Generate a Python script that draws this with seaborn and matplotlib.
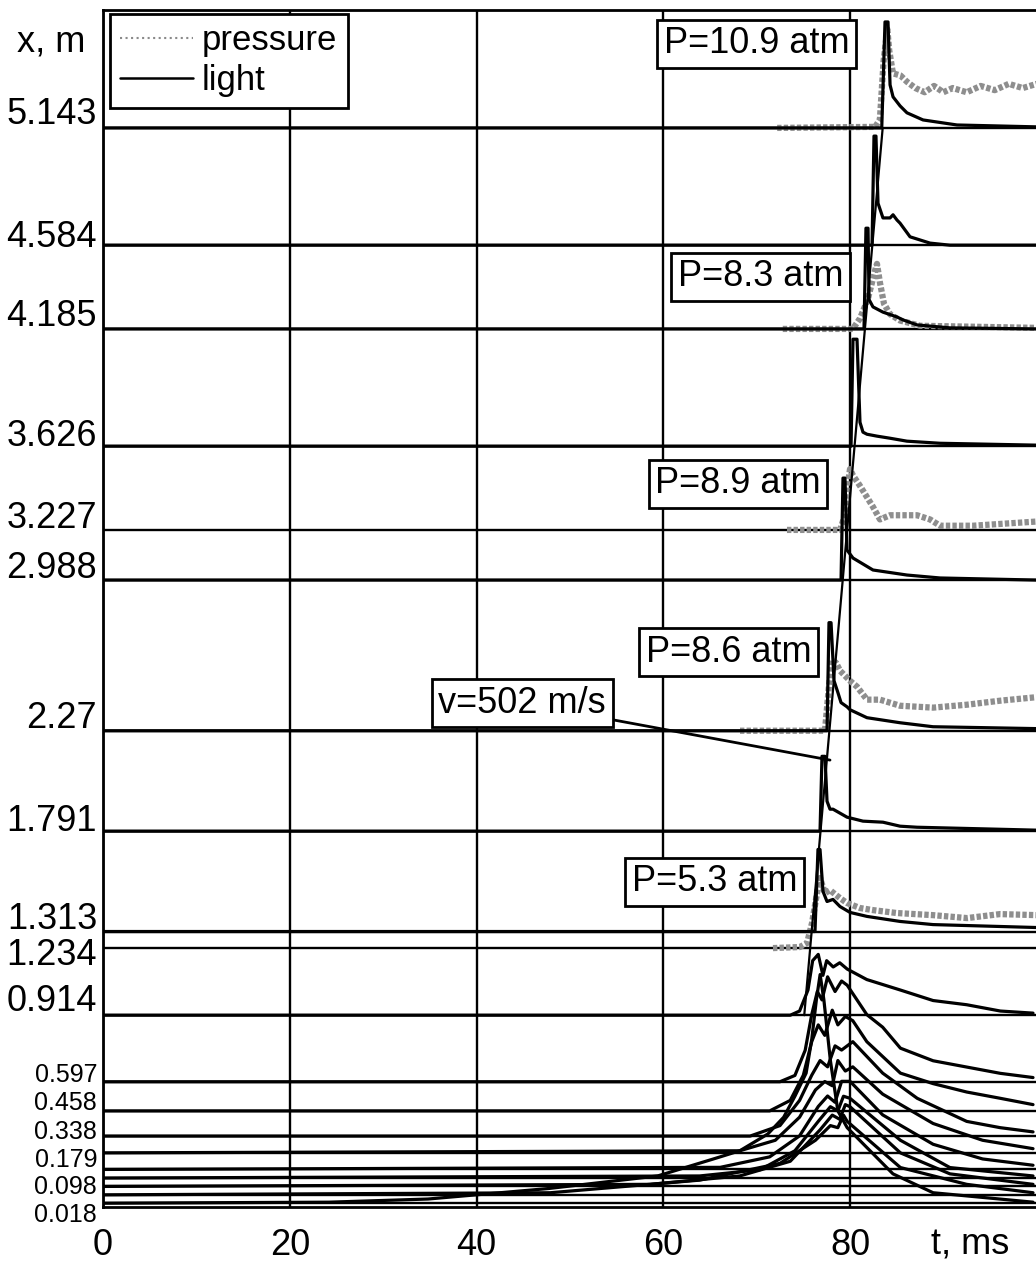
import numpy as np
import pandas as pd
import matplotlib
matplotlib.use('Agg')
import matplotlib.pyplot as plt
import matplotlib.transforms as mtrans
from matplotlib.lines import Line2D
import seaborn as sns

# ---------------- data ----------------
sensor_x = [5.143, 4.584, 4.185, 3.626, 3.227, 2.988, 2.27, 1.791, 1.313, 1.234,
            0.914, 0.597, 0.458, 0.338, 0.258, 0.179, 0.138, 0.098, 0.058, 0.018]
sensor_labels = ['5.143', '4.584', '4.185', '3.626', '3.227', '2.988', '2.27', '1.791',
                 '1.313', '1.234', '0.914', '0.597', '0.458', '0.338', '', '0.179', '',
                 '0.098', '', '0.018']
time_ticks = [0, 20, 40, 60, 80]

# pressure traces (t in ms, amplitude in m above sensor line)
p5143_t = [72.2, 82.7, 83.2, 83.6, 84.0, 84.2, 84.6, 85.4, 86.1, 87.0, 88.0, 89.0, 90.0,
           91.0, 92.5, 94.0, 95.5, 97.0, 98.5, 100]
p5143_a = [0, 0.005, 0.04, 0.32, 0.47, 0.37, 0.26, 0.25, 0.22, 0.19, 0.17, 0.20, 0.17,
           0.19, 0.17, 0.20, 0.18, 0.21, 0.19, 0.21]
p4185_t = [72.8, 80.3, 81.07, 81.9, 82.57, 82.89, 83.21, 83.64, 84.29, 85.36, 87.5, 100]
p4185_a = [0, 0, 0.05, 0.14, 0.26, 0.31, 0.22, 0.12, 0.07, 0.04, 0.015, 0.005]
p3227_t = [73.25, 78.93, 79.46, 79.78, 80.0, 80.32, 81.07, 82.46, 83.21, 84.29, 86.10,
           87.18, 88.57, 89.64, 93.17, 100]
p3227_a = [0, 0, 0.07, 0.22, 0.29, 0.26, 0.21, 0.11, 0.05, 0.07, 0.07, 0.07, 0.05, 0.02,
           0.02, 0.04]
p2270_t = [68.22, 77.32, 77.75, 78.07, 78.50, 78.93, 80.0, 80.75, 81.82, 83.21, 85.36,
           88.89, 92.53, 96.06, 100]
p2270_a = [0, 0, 0.215, 0.338, 0.324, 0.286, 0.238, 0.210, 0.148, 0.148, 0.119, 0.110,
           0.124, 0.143, 0.16]
p1234_t = [71.75, 74.63, 75.4, 75.93, 76.47, 76.79, 77.32, 77.86, 78.93, 79.68, 81.07,
           82.46, 85.03, 88.89, 92.53, 96.06, 100]
p1234_a = [0, 0.005, 0.024, 0.119, 0.262, 0.334, 0.262, 0.276, 0.238, 0.215, 0.191,
           0.181, 0.167, 0.157, 0.143, 0.162, 0.157]

# light traces
l5143_t = [0, 83.4, 83.75, 84.07, 84.29, 84.61, 85.36, 86.10, 87.82, 91.46, 100]
l5143_a = [0, 0, 0.505, 0.505, 0.205, 0.148, 0.105, 0.072, 0.038, 0.014, 0.005]
l4584_t = [0, 82.36, 82.57, 82.78, 83.0, 83.53, 84.29, 84.61, 85.03, 85.36, 86.43, 88.57,
           90.71, 100]
l4584_a = [0, 0, 0.52, 0.52, 0.20, 0.13, 0.13, 0.145, 0.12, 0.105, 0.04, 0.01, 0, 0]
l4185_t = [0, 81.5, 81.71, 81.93, 82.04, 82.46, 83.53, 85.03, 85.68, 87.18, 90.71, 100]
l4185_a = [0, 0, 0.48, 0.48, 0.14, 0.105, 0.08, 0.057, 0.043, 0.019, 0.005, 0]
l3626_t = [0, 80.11, 80.32, 80.75, 81.07, 81.39, 81.82, 82.89, 84.29, 86.10, 89.64, 100]
l3626_a = [0, 0, 0.51, 0.51, 0.114, 0.067, 0.057, 0.048, 0.038, 0.024, 0.014, 0.005]
l2988_t = [0, 79.04, 79.25, 79.46, 79.68, 80.32, 82.46, 86.10, 89.64, 100]
l2988_a = [0, 0, 0.486, 0.486, 0.143, 0.105, 0.048, 0.024, 0.010, 0]
l2270_t = [0, 77.54, 77.75, 77.97, 78.29, 78.71, 79.04, 79.68, 80.0, 81.82, 85.36, 88.89, 100]
l2270_a = [0, 0, 0.515, 0.515, 0.238, 0.181, 0.134, 0.114, 0.100, 0.062, 0.038, 0.019, 0.010]
l1791_t = [0, 76.79, 77.0, 77.32, 77.54, 77.86, 78.18, 79.68, 81.39, 83.53, 85.36, 87.18, 100]
l1791_a = [0, 0, 0.357, 0.357, 0.143, 0.105, 0.105, 0.067, 0.048, 0.043, 0.024, 0.019, 0.005]
l1313_t = [0, 76.25, 76.57, 76.79, 77.11, 77.54, 78.18, 78.93, 80.0, 81.82, 85.36, 88.89, 100]
l1313_a = [0, 0, 0.391, 0.391, 0.191, 0.143, 0.153, 0.119, 0.091, 0.072, 0.048, 0.033, 0.019]
l0914_t = [0, 73.6, 74.6, 75.5, 76.0, 76.6, 77.1, 77.5, 78.2, 78.9, 79.7, 81.8, 85.4, 88.9,
           92.5, 96.1, 99.6]
l0914_a = [0, 0, 0.02, 0.12, 0.26, 0.29, 0.19, 0.26, 0.23, 0.25, 0.22, 0.17, 0.12, 0.07,
           0.05, 0.02, 0.01]
l0597_t = [0, 72.5, 74.1, 75.2, 75.9, 76.5, 77.0, 77.6, 78.4, 79.1, 79.7, 80.3, 81.8, 83.5,
           85.4, 88.9, 92.5, 96.1, 99.6]
l0597_a = [0, 0, 0.03, 0.15, 0.32, 0.43, 0.39, 0.50, 0.43, 0.48, 0.46, 0.42, 0.32, 0.26,
           0.16, 0.10, 0.07, 0.04, 0.02]
l0458_t = [0, 71.4, 73.6, 75.0, 75.9, 76.6, 77.3, 78.1, 78.7, 79.5, 80.3, 81.8, 85.4, 88.9,
           92.5, 96.1, 99.6]
l0458_a = [0, 0, 0.05, 0.17, 0.33, 0.41, 0.36, 0.48, 0.41, 0.45, 0.43, 0.33, 0.18, 0.13,
           0.09, 0.06, 0.03]
l0338_t = [0, 69.3, 72.5, 74.6, 75.9, 76.8, 77.6, 78.4, 79.1, 80.3, 83.5, 87.2, 92.5, 96.1, 99.6]
l0338_a = [0, 0, 0.05, 0.17, 0.29, 0.36, 0.33, 0.43, 0.41, 0.45, 0.30, 0.18, 0.07, 0.04, 0.02]
l0258_t = [0, 68.2, 72.0, 74.6, 76.3, 77.3, 78.1, 78.7, 79.5, 80.3, 83.5, 88.9, 94.2, 99.6]
l0258_a = [0, 0.01, 0.06, 0.17, 0.30, 0.34, 0.32, 0.44, 0.39, 0.41, 0.28, 0.14, 0.06, 0.02]
l0179_t = [0, 66.1, 71.4, 74.6, 76.6, 77.6, 78.4, 79.1, 80.0, 83.5, 88.9, 94.2, 99.6]
l0179_a = [0, 0.01, 0.06, 0.16, 0.30, 0.35, 0.32, 0.42, 0.42, 0.26, 0.12, 0.05, 0.02]
l0138_t = [0, 63.9, 70.4, 74.1, 76.6, 77.9, 78.7, 79.3, 80.0, 85.4, 90.7, 99.6]
l0138_a = [0, 0.01, 0.04, 0.13, 0.27, 0.34, 0.32, 0.39, 0.38, 0.18, 0.05, 0.01]
l0098_t = [0, 58.6, 68.2, 73.6, 76.8, 78.1, 78.9, 79.5, 80.0, 85.4, 90.7, 99.6]
l0098_a = [0, 0.01, 0.05, 0.12, 0.27, 0.34, 0.32, 0.39, 0.38, 0.16, 0.06, 0.01]
l0058_t = [0, 47.9, 63.9, 72.5, 76.3, 77.9, 78.7, 79.3, 79.7, 85.4, 92.5, 99.6]
l0058_a = [0, 0.01, 0.07, 0.15, 0.26, 0.33, 0.32, 0.38, 0.35, 0.13, 0.05, 0.01]
l0018_t = [0, 24.2, 34.8, 47.7, 59.4, 65.3, 68.2, 71.2, 72.9, 74.1, 75.3, 75.9, 76.4, 76.8,
           77.2, 77.9, 78.7, 79.7, 84.6, 88.9, 99.6]
l0018_a = [0, 0.005, 0.02, 0.07, 0.13, 0.21, 0.25, 0.33, 0.41, 0.51, 0.62, 0.78, 0.97, 1.09,
           0.97, 0.68, 0.44, 0.36, 0.14, 0.05, 0.005]

# detonation-front fit line
fit_t = [75.1, 83.5]
fit_x = [0.914, 5.143]

# text boxes
box_text = ['P=10.9 atm', 'P=8.3 atm', 'P=8.9 atm', 'P=8.6 atm', 'P=5.3 atm']
box_t = [70.0, 70.4, 68.0, 67.0, 65.5]
box_x = [5.543, 4.433, 3.446, 2.645, 1.549]
v_text = 'v=502 m/s'
v_text_pos = (44.9, 2.402)
v_point = (77.86, 2.13)

pressure = {
    5.143: (p5143_t, p5143_a), 4.185: (p4185_t, p4185_a), 3.227: (p3227_t, p3227_a),
    2.27: (p2270_t, p2270_a), 1.234: (p1234_t, p1234_a),
}
light = {
    5.143: (l5143_t, l5143_a), 4.584: (l4584_t, l4584_a), 4.185: (l4185_t, l4185_a),
    3.626: (l3626_t, l3626_a), 2.988: (l2988_t, l2988_a), 2.27: (l2270_t, l2270_a),
    1.791: (l1791_t, l1791_a), 1.313: (l1313_t, l1313_a), 0.914: (l0914_t, l0914_a),
    0.597: (l0597_t, l0597_a), 0.458: (l0458_t, l0458_a), 0.338: (l0338_t, l0338_a),
    0.258: (l0258_t, l0258_a), 0.179: (l0179_t, l0179_a), 0.138: (l0138_t, l0138_a),
    0.098: (l0098_t, l0098_a), 0.058: (l0058_t, l0058_a), 0.018: (l0018_t, l0018_a),
}

rows = []
for kind, traces in (('pressure', pressure), ('light', light)):
    for base, (ts, amps) in traces.items():
        for t, a in zip(ts, amps):
            rows.append(dict(kind=kind, trace=f'{kind}{base}', t=t, x=base + a))
df = pd.DataFrame(rows)

# ---------------- layout / style ----------------
label_dy_px = [-13, -8, -12, -10, -11, -12, -12, -10, -12, 7, -14, -7, -8, -4, 0, -9, 0, 1, 0, 12]
label_fs = [26] * 11 + [18] * 9

sns.set_theme(style='white')
plt.rcParams['font.family'] = ['Liberation Sans', 'DejaVu Sans']
plt.rcParams['text.color'] = 'black'
plt.rcParams['axes.labelcolor'] = 'black'
plt.rcParams['xtick.color'] = 'black'
plt.rcParams['ytick.color'] = 'black'

fig = plt.figure(figsize=(10.36, 12.72), dpi=100)
ax = fig.add_axes([103 / 1036, 1 - 1207 / 1272, 933.75 / 1036, 1197 / 1272])
ax.set_xlim(0, 100)
ax.set_ylim(0, 5.705)

sns.lineplot(data=df[df.kind == 'pressure'], x='t', y='x', units='trace', estimator=None,
             sort=False, color='#8e8e8e', lw=4.5, ls=(0, (0.7, 0.35)), ax=ax,
             legend=False, zorder=3)
sns.lineplot(data=df[df.kind == 'light'], x='t', y='x', units='trace', estimator=None,
             sort=False, color='black', lw=2.3, ax=ax, legend=False, zorder=4)
sns.lineplot(x=fit_t, y=fit_x, color='black', lw=1.6, ax=ax, zorder=4)

ax.set_xlabel('')
ax.set_ylabel('')
ax.set_yticks(sensor_x)
ax.set_yticklabels([])
ax.set_xticks(time_ticks)
ax.set_xticklabels([str(v) for v in time_ticks], fontsize=26, color='black')
ax.tick_params(axis='both', length=0)
ax.tick_params(axis='x', pad=15)
ax.grid(True, color='black', lw=1.7)
ax.set_axisbelow(True)
for s in ['top', 'left', 'bottom']:
    ax.spines[s].set_color('black')
    ax.spines[s].set_linewidth(2)
ax.spines['right'].set_visible(False)

base_tr = ax.get_yaxis_transform()
for y, lab, dy, fs in zip(sensor_x, sensor_labels, label_dy_px, label_fs):
    if not lab:
        continue
    tr = mtrans.offset_copy(base_tr, fig=fig, x=-6, y=-dy, units='dots')
    ax.text(0, y, lab, transform=tr, ha='right', va='center', fontsize=fs, color='black',
            clip_on=False)

ax.text(-18 / 933.75, (1207 - 42) / 1197, 'x, m', transform=ax.transAxes, ha='right',
        va='center', fontsize=26, color='black')
ax.text((970 - 103) / 933.75, (1207 - 1245) / 1197, 't, ms', transform=ax.transAxes,
        ha='center', va='center', fontsize=26, color='black')

bbox_style = dict(boxstyle='square,pad=0.18', fc='white', ec='black', lw=2)
for s, t, x in zip(box_text, box_t, box_x):
    ax.text(t, x, s, ha='center', va='center', fontsize=26, color='black',
            bbox=bbox_style, zorder=6)
ax.annotate(v_text, xy=v_point, xytext=v_text_pos, ha='center', va='center', fontsize=26,
            color='black', bbox=bbox_style, zorder=6,
            arrowprops=dict(arrowstyle='-', color='black', lw=2, shrinkA=0, shrinkB=0))

handles = [Line2D([], [], color='#8a8a8a', lw=1.5, ls=':'),
           Line2D([], [], color='black', lw=1.8)]
leg = ax.legend(handles, ['pressure', 'light'], loc='upper left',
                bbox_to_anchor=(7 / 933.75, 1 - 4 / 1197), borderaxespad=0, fontsize=25,
                frameon=True, fancybox=False, framealpha=1, edgecolor='black',
                handlelength=2.1, handletextpad=0.25, labelspacing=0.2, borderpad=0.3)
leg.get_frame().set_linewidth(2)
for txt in leg.get_texts():
    txt.set_color('black')
leg.set_zorder(7)

fig.savefig('out.png', dpi=100)
